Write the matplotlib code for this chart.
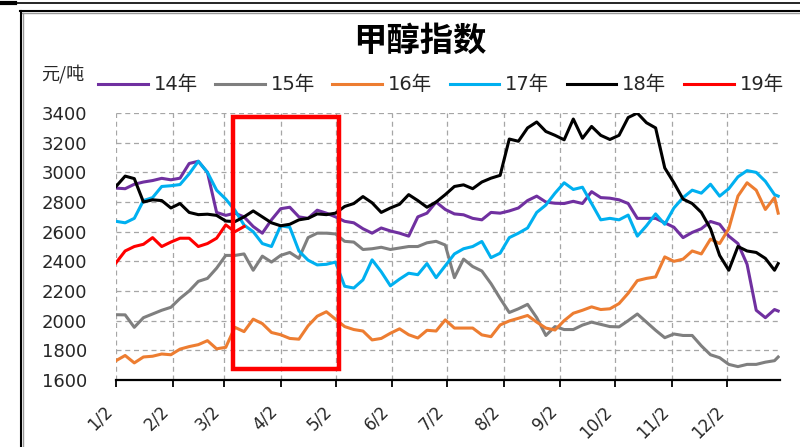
import pandas as pd
import matplotlib
matplotlib.use('Agg')
import matplotlib.pyplot as plt
from matplotlib.lines import Line2D
from matplotlib.patches import Rectangle
import matplotlib.dates as mdates

plt.rcParams['font.family'] = ['DejaVu Sans', 'Noto Sans CJK SC']

# sample dates: every 5 days from Jan 2, plus the last trading day shown
dates = pd.date_range('2018-01-02', periods=73, freq='5D').append(pd.DatetimeIndex(['2018-12-30']))

tick_dates = [pd.Timestamp(2018, m, 2) for m in range(1, 13)]
tick_labels = [f'{m}/2' for m in range(1, 13)]

y14 = [2894, 2890, 2920, 2935, 2945, 2960, 2950, 2961, 3060, 3075, 3000, 2730, 2710, 2725, 2700,
       2635, 2590, 2680, 2755, 2765, 2700, 2690, 2745, 2725, 2700, 2670, 2660, 2620, 2590, 2625,
       2605, 2590, 2570, 2700, 2725, 2800, 2750, 2720, 2714, 2690, 2680, 2730, 2725, 2740, 2760,
       2810, 2840, 2800, 2792, 2790, 2805, 2790, 2870, 2830, 2826, 2815, 2790, 2690, 2690, 2690,
       2660, 2630, 2560, 2595, 2620, 2669, 2650, 2570, 2520, 2380, 2070, 2020, 2075, 2065]
y15 = [2040, 2039, 1955, 2020, 2045, 2070, 2090, 2150, 2200, 2265, 2285, 2354, 2440, 2440, 2450,
       2340, 2435, 2395, 2440, 2460, 2420, 2560, 2590, 2590, 2585, 2535, 2530, 2480, 2485, 2495,
       2480, 2490, 2500, 2500, 2525, 2535, 2510, 2290, 2415, 2365, 2335, 2250, 2150, 2055, 2080,
       2110, 2020, 1900, 1960, 1940, 1940, 1970, 1990, 1975, 1960, 1958, 2000, 2045, 1990, 1935,
       1885, 1910, 1900, 1900, 1830, 1770, 1750, 1705, 1690, 1705, 1705, 1720, 1730, 1755]
y16 = [1730, 1765, 1715, 1755, 1760, 1775, 1770, 1808, 1825, 1838, 1865, 1810, 1820, 1955, 1926,
       2010, 1980, 1920, 1905, 1880, 1875, 1965, 2030, 2060, 2010, 1960, 1940, 1930, 1870, 1880,
       1915, 1945, 1905, 1883, 1935, 1930, 2005, 1950, 1950, 1950, 1904, 1892, 1971, 1998, 2016,
       2035, 1990, 1950, 1937, 2000, 2050, 2070, 2093, 2075, 2080, 2115, 2185, 2270, 2285, 2295,
       2430, 2400, 2415, 2470, 2450, 2550, 2520, 2620, 2840, 2930, 2880, 2750, 2830, 2725]
y17 = [2670, 2660, 2690, 2810, 2830, 2905, 2910, 2918, 2990, 3075, 3000, 2880, 2820, 2745, 2645,
       2600, 2520, 2500, 2640, 2630, 2470, 2408, 2376, 2380, 2395, 2232, 2220, 2275, 2410, 2330,
       2235, 2280, 2320, 2310, 2385, 2290, 2370, 2450, 2485, 2500, 2534, 2425, 2455, 2560, 2590,
       2625, 2730, 2780, 2860, 2930, 2885, 2900, 2790, 2680, 2690, 2680, 2712, 2570, 2640, 2720,
       2650, 2760, 2830, 2880, 2860, 2920, 2840, 2890, 2970, 3012, 3000, 2940, 2850, 2840]
y18 = [2905, 2975, 2958, 2800, 2815, 2810, 2760, 2790, 2730, 2715, 2718, 2710, 2672, 2668, 2700,
       2740, 2700, 2660, 2640, 2650, 2680, 2690, 2720, 2715, 2725, 2770, 2790, 2837, 2795, 2730,
       2760, 2785, 2850, 2810, 2765, 2800, 2850, 2905, 2916, 2890, 2935, 2961, 2980, 3225, 3210,
       3300, 3340, 3276, 3250, 3220, 3360, 3230, 3310, 3250, 3222, 3250, 3370, 3400, 3335, 3300,
       3030, 2930, 2820, 2790, 2730, 2620, 2440, 2340, 2500, 2470, 2460, 2420, 2340, 2385]
y19 = [2390, 2470, 2500, 2515, 2560, 2500, 2530, 2556, 2556, 2500, 2520, 2556, 2646, 2600, 2635]

series = [('14年', y14, '#7030A0'), ('15年', y15, '#7F7F7F'), ('16年', y16, '#ED7D31'),
          ('17年', y17, '#00B0F0'), ('18年', y18, '#000000'), ('19年', y19, '#FF0000')]

# highlighted window
box_start, box_end = pd.Timestamp(2018, 3, 7), pd.Timestamp(2018, 5, 4)
box_low, box_high = 1674, 3375

fig = plt.figure(figsize=(8, 4.47), dpi=100)
ax = fig.add_axes([0.145, 0.150, 0.830, 0.597])

handles = []
for name, vals, color in series:
    ln, = ax.plot(dates[:len(vals)], vals, color=color, lw=2.2, label=name)
    handles.append(ln)

ax.set_xlim(pd.Timestamp(2018, 1, 2), pd.Timestamp(2018, 12, 31))
ax.set_ylim(1600, 3400)
ax.set_yticks(range(1600, 3401, 200))
ax.set_xticks(tick_dates, tick_labels, rotation=45, ha='right')

ax.grid(True, color='#a6a6a6', linestyle=(0, (4, 3)), linewidth=0.9)
ax.set_axisbelow(True)
for side in ['top', 'right', 'left']:
    ax.spines[side].set_visible(False)
ax.spines['bottom'].set_linewidth(1.6)
ax.tick_params(axis='y', length=0, pad=21, labelsize=13, labelcolor='#262626')
ax.tick_params(axis='x', length=5, width=1.3, pad=11, labelsize=12, labelcolor='#262626')

x0 = mdates.date2num(box_start)
x1 = mdates.date2num(box_end)
ax.add_patch(Rectangle((x0, box_low), x1 - x0, box_high - box_low, fill=False,
                       edgecolor='#FF0000', lw=3.2, zorder=6, clip_on=False))

fig.text(0.525, 1 - 41 / 447, '甲醇指数', ha='center', va='center', fontsize=24,
         fontweight='bold', family='Noto Sans CJK SC')
fig.text(63 / 800, 1 - 74 / 447, '元/吨', ha='center', va='center', fontsize=13,
         family='Noto Sans CJK SC', color='#262626')

fig.legend(handles, [s[0] for s in series], loc='center left', bbox_to_anchor=(98 / 800, 1 - 85 / 447),
           ncol=6, frameon=False, fontsize=14, handlelength=2.55, handletextpad=0.3,
           columnspacing=0.9, borderpad=0, borderaxespad=0, labelcolor='#262626')

# page frame around the chart
def fline(xs, ys, **kw):
    fig.add_artist(Line2D([x / 800 for x in xs], [1 - y / 447 for y in ys],
                          transform=fig.transFigure, **kw))

fline([7, 800], [3, 3], color='black', lw=1.2)
fline([0, 15], [3, 3], color='black', lw=3)
fline([20, 800], [10.5, 10.5], color='black', lw=1.5)
fline([22, 800], [12.5, 12.5], color='#999999', lw=1)
fline([20.5, 20.5], [10.5, 447], color='black', lw=1.5)
fline([22.5, 22.5], [12.5, 447], color='#999999', lw=1)

fig.savefig('out.png', dpi=100)
